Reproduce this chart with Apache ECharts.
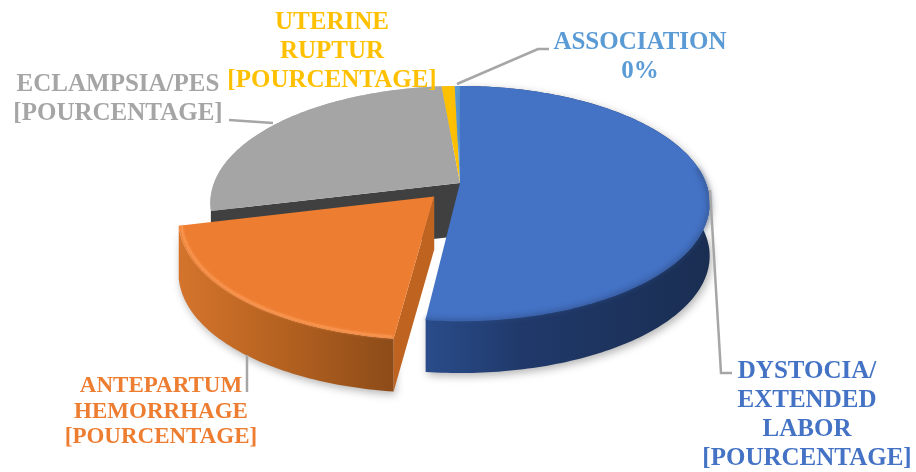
<!DOCTYPE html>
<html>
<head>
<meta charset="utf-8">
<title>Pie</title>
<style>
  html, body {margin: 0; padding: 0; background: #fff;}
  #main {width: 916px; height: 472px;}
</style>
<script src="https://cdn.jsdelivr.net/npm/echarts@6/dist/echarts.min.js"></script>
</head>
<body>
<div id="main"></div>
<script>
// data (share of the whole)
const categories = ['DYSTOCIA/\nEXTENDED\nLABOR', 'ANTEPARTUM\nHEMORRHAGE', 'ECLAMPSIA/PES', 'UTERINE\nRUPTUR', 'ASSOCIATION'];
const values = [51.85, 19.35, 27.4, 1, 0.4];
const valueLabels = ['[POURCENTAGE]', '[POURCENTAGE]', '[POURCENTAGE]', '[POURCENTAGE]', '0%'];
const exploded = [0, 0.155, 0, 0, 0];

const topColors = ['#4472c4', '#ed7d31', '#a5a5a5', '#ffc000', '#5b9bd5'];

// label layout: text centre, font size, line height, leader line
const labelLayout = [
    {x: 807, y: 415, size: 25, lh: 28.7, line: [[710, 190], [721, 373], [732, 373]]},
    {x: 161, y: 412, size: 23, lh: 25.5, line: [[247, 355], [247, 392]]},
    {x: 118, y: 99, size: 25, lh: 29.5, line: [[229, 120], [273, 123]]},
    {x: 332, y: 52, size: 25, lh: 29, line: null},
    {x: 640, y: 57, size: 25, lh: 28.5, line: [[457, 84], [538, 49], [549, 49]]}
];

// perspective of the pie disk
const cx = 460, cy = 183, rx = 246, k = 113.6, p = 0.171, depth = 53;

const total = values.reduce((a, b) => a + b, 0);

function project(deg, r, ex, ey, dz) {
    const t = deg * Math.PI / 180;
    const u = ex + r * Math.sin(t);
    const v = ey - r * Math.cos(t);
    const w = 1 - p * v;
    return [cx + rx * u / w, cy + k * v / w + dz];
}

function arc(a0, a1, r, ex, ey, dz) {
    const pts = [];
    const n = Math.max(2, Math.ceil(Math.abs(a1 - a0)));
    for (let i = 0; i <= n; i++) {
        pts.push(project(a0 + (a1 - a0) * i / n, r, ex, ey, dz));
    }
    return pts;
}

function hGrad(x0, x1, stops) {
    return new echarts.graphic.LinearGradient(x0, 0, x1, 0, stops, true);
}

function renderSlice(params, api) {
    const i = params.dataIndex;
    const value = api.value(1);
    let start = 0;
    for (let j = 0; j < i; j++) start += values[j] / total * 360;
    const end = start + value / total * 360;
    const mid = (start + end) / 2 * Math.PI / 180;
    const ex = exploded[i] * Math.sin(mid);
    const ey = -exploded[i] * Math.cos(mid);

    const topEdge = arc(start, end, 1, ex, ey, 0);
    const wallEdge = arc(end, start, 1, ex, ey, depth);
    const apex = project(0, 0, ex, ey, 0);
    const apexLow = project(0, 0, ex, ey, depth);
    const children = [];

    const isBlue = i === 0, isOrange = i === 1, isGray = i === 2;
    let wallFill = '#b5b5b5';
    if (isBlue) {
        wallFill = hGrad(420, 710, [{offset: 0, color: '#2a4d8c'}, {offset: 0.35, color: '#20396a'}, {offset: 1, color: '#1a2e52'}]);
    } else if (isOrange) {
        wallFill = hGrad(180, 400, [{offset: 0, color: '#d4742c'}, {offset: 0.5, color: '#b2601f'}, {offset: 1, color: '#8a4a18'}]);
    }
    const base = isOrange ? 6 : (isBlue ? 3 : 1);

    // outer wall
    children.push({
        type: 'polygon', z2: base,
        shape: {points: topEdge.concat(wallEdge)},
        style: {
            fill: wallFill,
            shadowBlur: (isBlue || isOrange) ? 9 : 0,
            shadowColor: 'rgba(0,0,0,0.3)',
            shadowOffsetX: 2,
            shadowOffsetY: 3
        }
    });

    // cut faces
    if (isGray) {
        const a = project(start, 1, ex, ey, 0);
        const b = project(start, 1, ex, ey, depth);
        children.push({
            type: 'polygon', z2: 2,
            shape: {points: [apex, a, b, apexLow]},
            style: {fill: '#404040'}
        });
    }
    if (isOrange) {
        const a = project(start, 1, ex, ey, 0);
        const b = project(start, 1, ex, ey, depth);
        children.push({
            type: 'polygon', z2: base + 0.5,
            shape: {points: [apex, a, b, apexLow]},
            style: {fill: '#bf6420'}
        });
    }

    // top face
    children.push({
        type: 'polygon', z2: base + 1,
        shape: {points: [apex].concat(topEdge)},
        style: {fill: topColors[i]}
    });

    // soft rim on the front edge
    if (isBlue) {
        children.push({
            type: 'polyline', z2: base + 2,
            shape: {points: arc(82, end, 0.995, ex, ey, 1)},
            style: {stroke: '#3c64ad', lineWidth: 2, fill: null, shadowBlur: 5, shadowColor: '#2f4f88'}
        });
    }
    if (isOrange) {
        children.push({
            type: 'polyline', z2: base + 2,
            shape: {points: arc(start + 0.3, end - 0.3, 0.99, ex, ey, 0)},
            style: {stroke: '#f6924c', lineWidth: 2.5, fill: null, shadowBlur: 3, shadowColor: '#f6924c'}
        });
    }

    // leader line and label
    const lay = labelLayout[i];
    if (lay.line) {
        children.push({
            type: 'polyline', z2: 15,
            shape: {points: lay.line},
            style: {stroke: '#a6a6a6', lineWidth: 2.5, fill: null}
        });
    }
    children.push({
        type: 'text', z2: 20,
        style: {
            x: lay.x, y: lay.y,
            text: categories[i] + '\n' + valueLabels[i],
            fill: topColors[i],
            fontFamily: '"Liberation Serif"',
            fontWeight: 'bold',
            fontSize: lay.size,
            lineHeight: lay.lh,
            align: 'center',
            verticalAlign: 'middle'
        }
    });

    return {type: 'group', children: children};
}

const chart = echarts.init(document.getElementById('main'));
chart.setOption({
    animation: false,
    backgroundColor: '#fff',
    series: [{
        type: 'custom',
        coordinateSystem: 'none',
        renderItem: renderSlice,
        data: values.map((v, i) => [i, v])
    }]
});
</script>
</body>
</html>
